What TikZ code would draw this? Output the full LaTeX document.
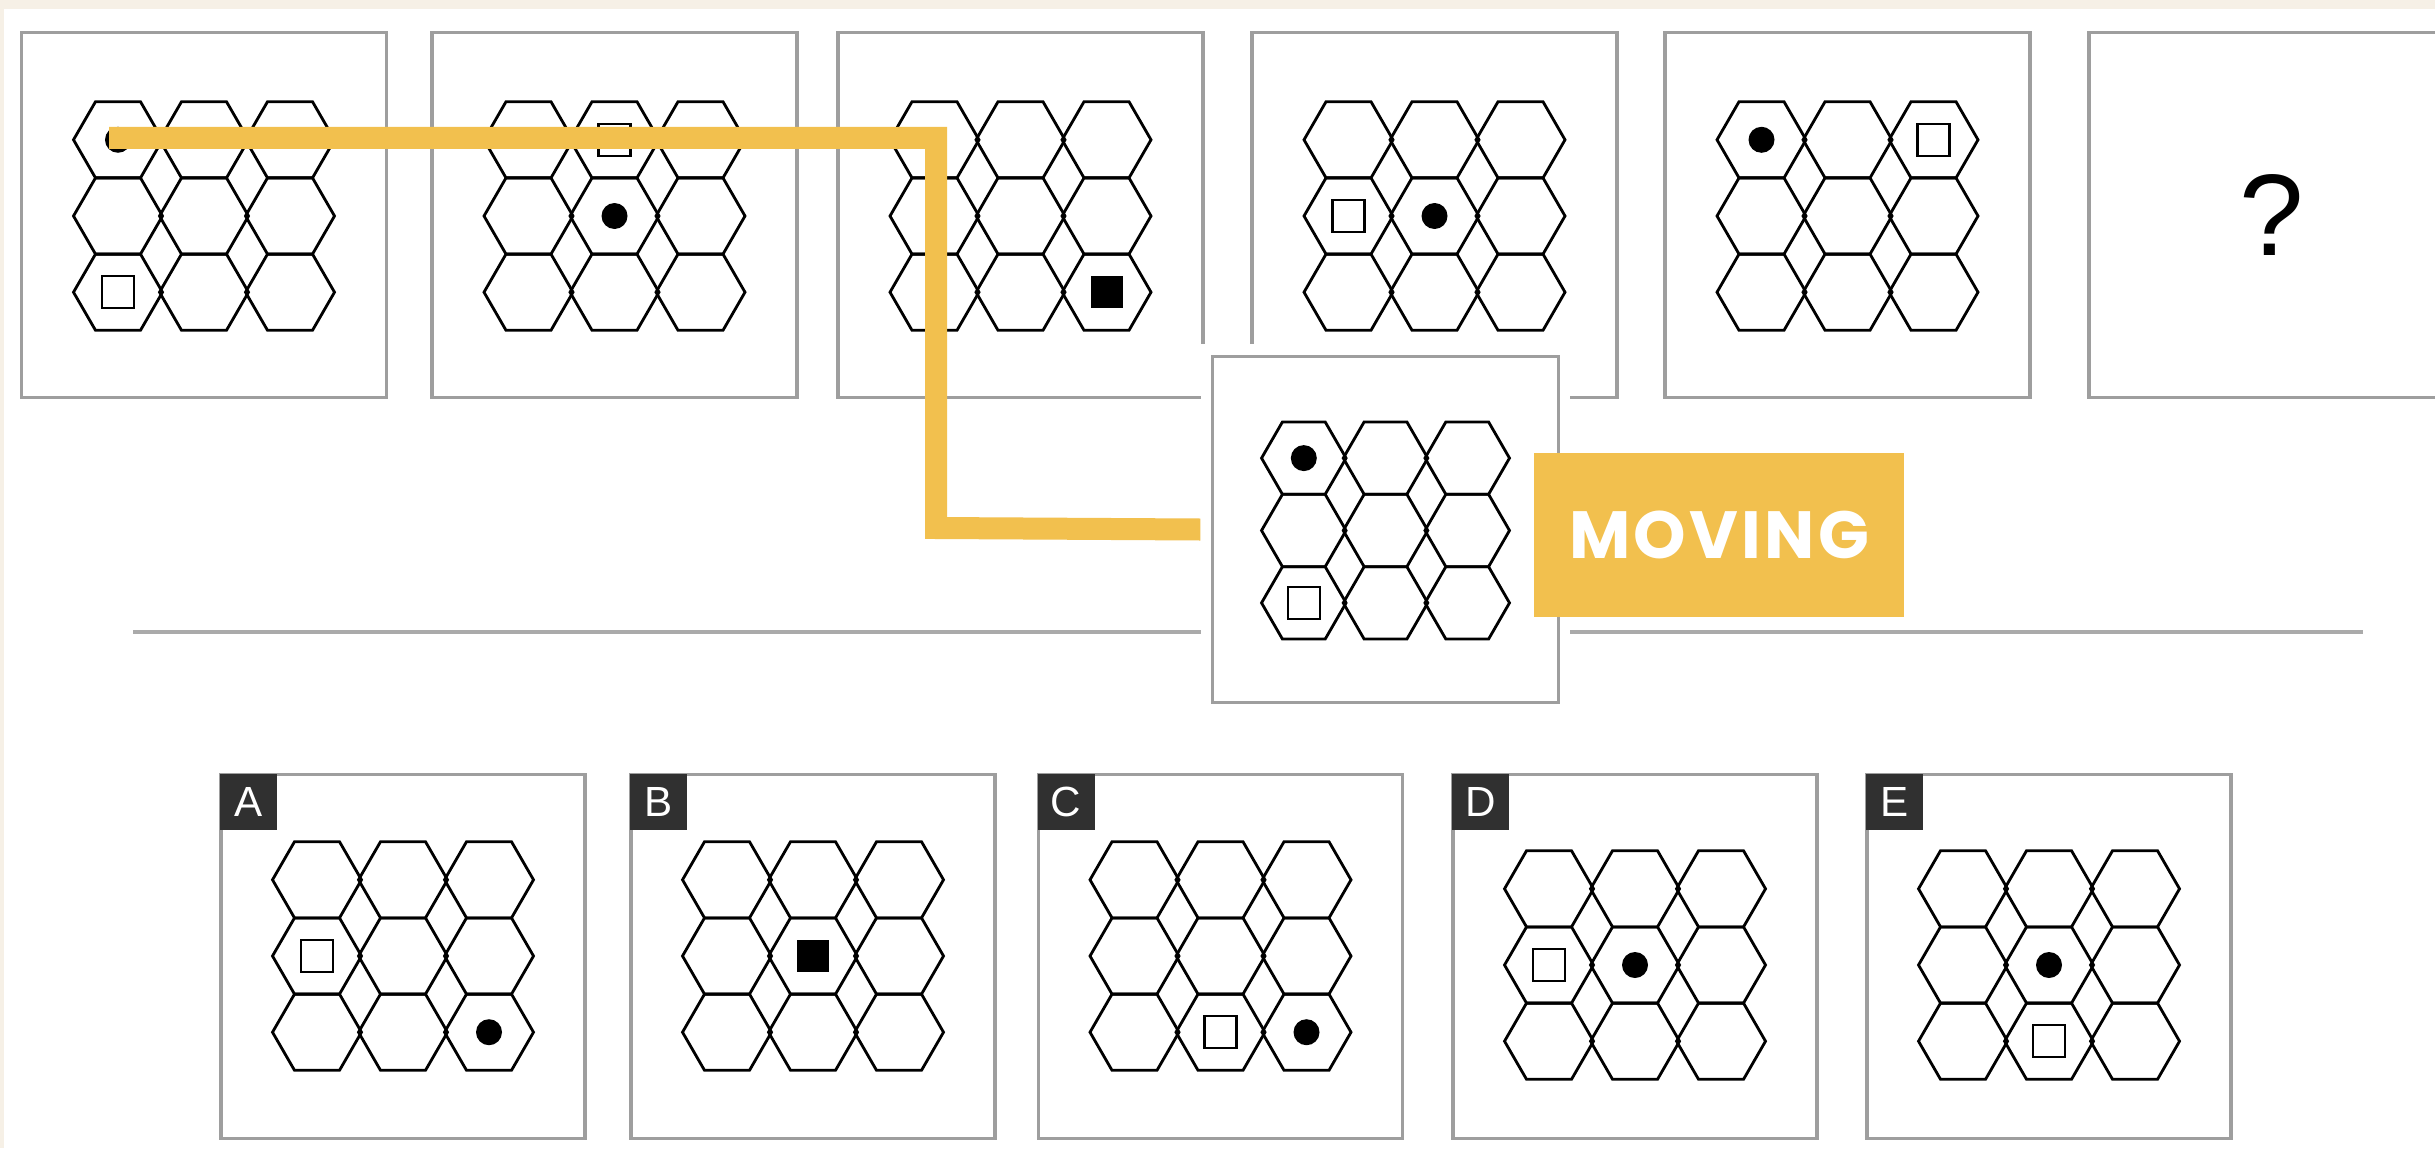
\documentclass[tikz,border=0pt]{standalone}
\usepackage{fontspec}
\setmainfont{Liberation Sans}
\newfontfamily\movefont[LetterSpace=5]{Poppins}
\usetikzlibrary{positioning}
\definecolor{puzCream}{RGB}{246,240,230}
\definecolor{puzAmber}{RGB}{242,192,78}
\definecolor{puzFrame}{RGB}{158,158,158}
\definecolor{puzRule}{RGB}{170,170,170}
\definecolor{puzTag}{RGB}{48,48,48}

%% ── helper: one 3x3 honeycomb of flat-top hexagons ──────
%% args: centre x, centre y, scale, name prefix
%%       cells are named <prefix>-<col>-<row>, col/row = 1..3
\newcommand{\hexgrid}[4]{
  \begin{scope}[shift={(#1,#2)}, scale=#3]
    \foreach \cl in {1,2,3}{
      \foreach \rw in {1,2,3}{
        \coordinate (#4-\cl-\rw) at ({(\cl-2)*86}, {(\rw-2)*76.2});
        \draw[hexline] (#4-\cl-\rw) ++(-44.5,0) -- ++(22,-38.1) -- ++(45,0)
              -- ++(22,38.1) -- ++(-22,38.1) -- ++(-45,0) -- cycle;
      }
    }
  \end{scope}
}
%% ── helpers: marks inside one cell ───────────────────────
\newcommand{\gdot}[1]{\fill (#1) circle (13);}
\newcommand{\gsq}[1]{\draw[markline] (#1) +(-16,-16) rectangle +(16,16);}
\newcommand{\gfull}[1]{\fill (#1) +(-16,-16) rectangle +(16,16);}

\begin{document}
\begin{tikzpicture}[x=0.1mm, y=-0.1mm,
  hexline/.style={line width=0.8pt, line join=miter},
  markline/.style={line width=0.7pt},
  panel/.style={draw=puzFrame, line width=0.9pt, fill=white,
                minimum size=36.5mm, inner sep=0pt},
  option/.style={panel, minimum size=36.4mm},
  tag/.style={fill=puzTag, text=white, minimum width=5.7mm, minimum height=5.6mm,
              inner sep=0pt, anchor=north west, font=\fontsize{12}{12}\selectfont},
  moveline/.style={puzAmber, line width=2.2mm, line join=miter},
  movebox/.style={fill=puzAmber, text=white, minimum width=37mm, minimum height=16.4mm,
                  inner sep=0pt, font=\movefont\bfseries\fontsize{19}{19}\selectfont},
  rule/.style={puzRule, line width=0.9pt},
]

%% ── canvas: 1 unit = 1 px of the 2435 x 1148 sheet ───────
\clip (0,0) rectangle (2435,1148);
\fill[puzCream] (0,0) rectangle (2435,1148);
\fill[white] (4,9) rectangle (2435,1148);

%% ── row positions ────────────────────────────────────────
\def\rowT{215}    % top sequence, panel centre y
\def\rowB{956.5}  % answer options, panel centre y

%% ── top sequence ─────────────────────────────────────────
\node[panel] (p1) at (204,\rowT) {};
\node[panel] (p2) at (614.5,\rowT) {};
\node[panel] (p3) at (1020.5,\rowT) {};
\node[panel] (p4) at (1434.5,\rowT) {};
\node[panel] (p5) at (1847.5,\rowT) {};
\node[panel] (p6) at (2271.5,\rowT) {};

\hexgrid{204}{216}{1}{g1}
\hexgrid{614.5}{216}{1}{g2}
\hexgrid{1020.5}{216}{1}{g3}
\hexgrid{1434.5}{216}{1}{g4}
\hexgrid{1847.5}{216}{1}{g5}

\gdot{g1-1-1} \gsq{g1-1-3}
\gsq{g2-2-1}  \gdot{g2-2-2}
\gfull{g3-3-3}
\gsq{g4-1-2}  \gdot{g4-2-2}
\gdot{g5-1-1} \gsq{g5-3-1}

\node[font=\fontsize{33}{33}\selectfont] (qm) at (p6) {?};

%% ── moving connector + divider ───────────────────────────
\coordinate (start) at (109,138);
\coordinate (turn)  at (936,528);
\coordinate (ruleL) at (133,632);
\coordinate (ruleR) at (2363,632);
\draw[rule] (ruleL) -- (ruleR);

%% white pad keeps the connector and rule off the panel
\node[fill=white, minimum width=36.9mm, minimum height=37.1mm, inner sep=0pt]
     (pad) at (1385.5,529.5) {};
\draw[moveline] (start) -| (turn) -- (pad.west);

\node[panel, minimum size=34.6mm] (pm) at (pad) {};
\hexgrid{1385.5}{530.5}{0.95}{gm}
\gdot{gm-1-1} \gsq{gm-1-3}

\node[movebox] (mv) at (1719,535) {MOVING};

%% ── answer options ───────────────────────────────────────
\node[option] (oA) at (403,\rowB) {};
\node[option] (oB) at (813,\rowB) {};
\node[option] (oC) at (1220.5,\rowB) {};
\node[option] (oD) at (1635,\rowB) {};
\node[option] (oE) at (2049,\rowB) {};

\hexgrid{403}{956}{1}{gA}
\hexgrid{813}{956}{1}{gB}
\hexgrid{1220.5}{956}{1}{gC}
\hexgrid{1635}{965}{1}{gD}
\hexgrid{2049}{965}{1}{gE}

\gsq{gA-1-2}  \gdot{gA-3-3}
\gfull{gB-2-2}
\gsq{gC-2-3}  \gdot{gC-3-3}
\gsq{gD-1-2}  \gdot{gD-2-2}
\gdot{gE-2-2} \gsq{gE-2-3}

\node[tag] (tA) at (oA.north west) {A};
\node[tag] (tB) at (oB.north west) {B};
\node[tag] (tC) at (oC.north west) {C};
\node[tag] (tD) at (oD.north west) {D};
\node[tag] (tE) at (oE.north west) {E};

\end{tikzpicture}
\end{document}
